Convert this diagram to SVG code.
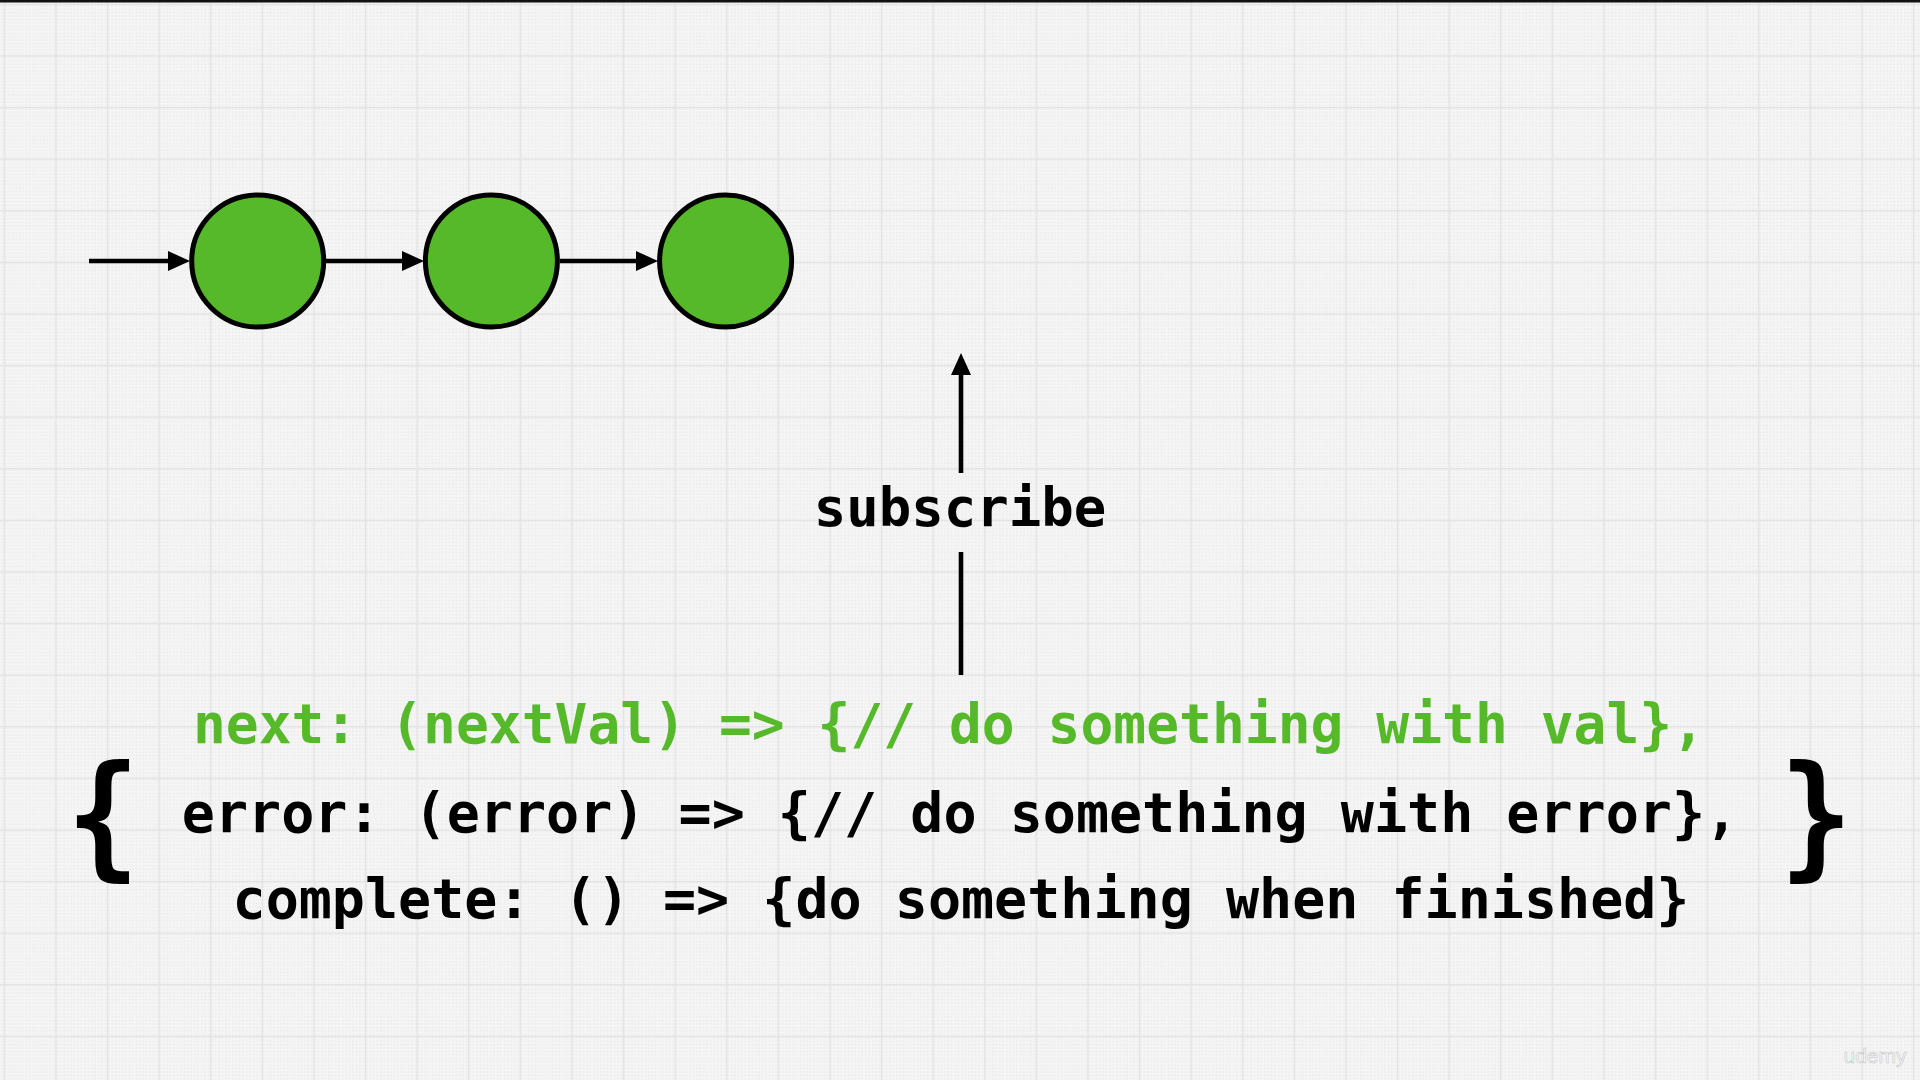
<svg xmlns="http://www.w3.org/2000/svg" width="1920" height="1080" viewBox="0 0 1920 1080">
  <defs>
    <pattern id="dots" patternUnits="userSpaceOnUse" width="3.44" height="3.44" x="3.7" y="3.7">
      <rect width="3.44" height="3.44" fill="#f5f5f5"/>
      <rect x="0.9" y="0.9" width="1.6" height="1.6" fill="#ebebeb"/>
    </pattern>
    <pattern id="grid" patternUnits="userSpaceOnUse" width="51.6" height="51.6" x="3.7" y="3.7">
      <rect width="51.6" height="51.6" fill="url(#dots)"/>
      <path d="M0,0 H51.6 M0,0 V51.6" stroke="#e2e2e2" stroke-width="2.4" fill="none"/>
    </pattern>
    <marker id="head" markerUnits="userSpaceOnUse" markerWidth="22" markerHeight="21" refX="7" refY="10.5" orient="auto">
      <path d="M0,0.5 L22,10.5 L0,20.5 z" fill="#000"/>
    </marker>
  </defs>
  <style>
    .conn { stroke: #000; stroke-width: 4.6; fill: none; }
    .node { fill: #55b929; stroke: #000; stroke-width: 5; }
    .code { font-family: "DejaVu Sans Mono", monospace; font-weight: bold; font-size: 55px; text-anchor: middle; }
    .brace { font-family: "DejaVu Sans Mono", monospace; font-weight: bold; font-size: 135px; text-anchor: middle; fill: #000; }
  </style>

  <rect width="1920" height="1080" fill="url(#grid)"/>
  <rect width="1920" height="2.5" fill="#111"/>

  <g id="connectors">
    <path class="conn" d="M89,261 H175" marker-end="url(#head)"/>
    <path class="conn" d="M326,261 H409" marker-end="url(#head)"/>
    <path class="conn" d="M560,261 H643" marker-end="url(#head)"/>
    <path class="conn" d="M961,675 V552"/>
    <path class="conn" d="M961,473 V368" marker-end="url(#head)"/>
  </g>

  <g id="node1"><circle class="node" cx="257.7" cy="261" r="66"/></g>
  <g id="node2"><circle class="node" cx="491.4" cy="261" r="66"/></g>
  <g id="node3"><circle class="node" cx="725.6" cy="261" r="66"/></g>

  <g id="label-subscribe">
    <text x="960" y="526" class="code" style="font-size:54px" fill="#000">subscribe</text>
  </g>

  <g id="observer">
    <text x="103" y="862" class="brace" transform="translate(103 0) scale(0.9 1) translate(-103 0)">{</text>
    <text x="949" y="743" class="code" fill="#55b929" textLength="1512" lengthAdjust="spacingAndGlyphs">next: (nextVal) =&gt; {// do something with val},</text>
    <text x="960" y="832" class="code" fill="#000">error: (error) =&gt; {// do something with error},</text>
    <text x="961" y="918" class="code" fill="#000">complete: () =&gt; {do something when finished}</text>
    <text x="1816" y="862" class="brace" transform="translate(1816 0) scale(0.9 1) translate(-1816 0)">}</text>
  </g>

  <text x="1875" y="1063" font-family="Liberation Sans, sans-serif" font-size="21" text-anchor="middle" fill="#fbfbfb" stroke="#c4c4c4" stroke-width="0.6">udemy</text>
</svg>
